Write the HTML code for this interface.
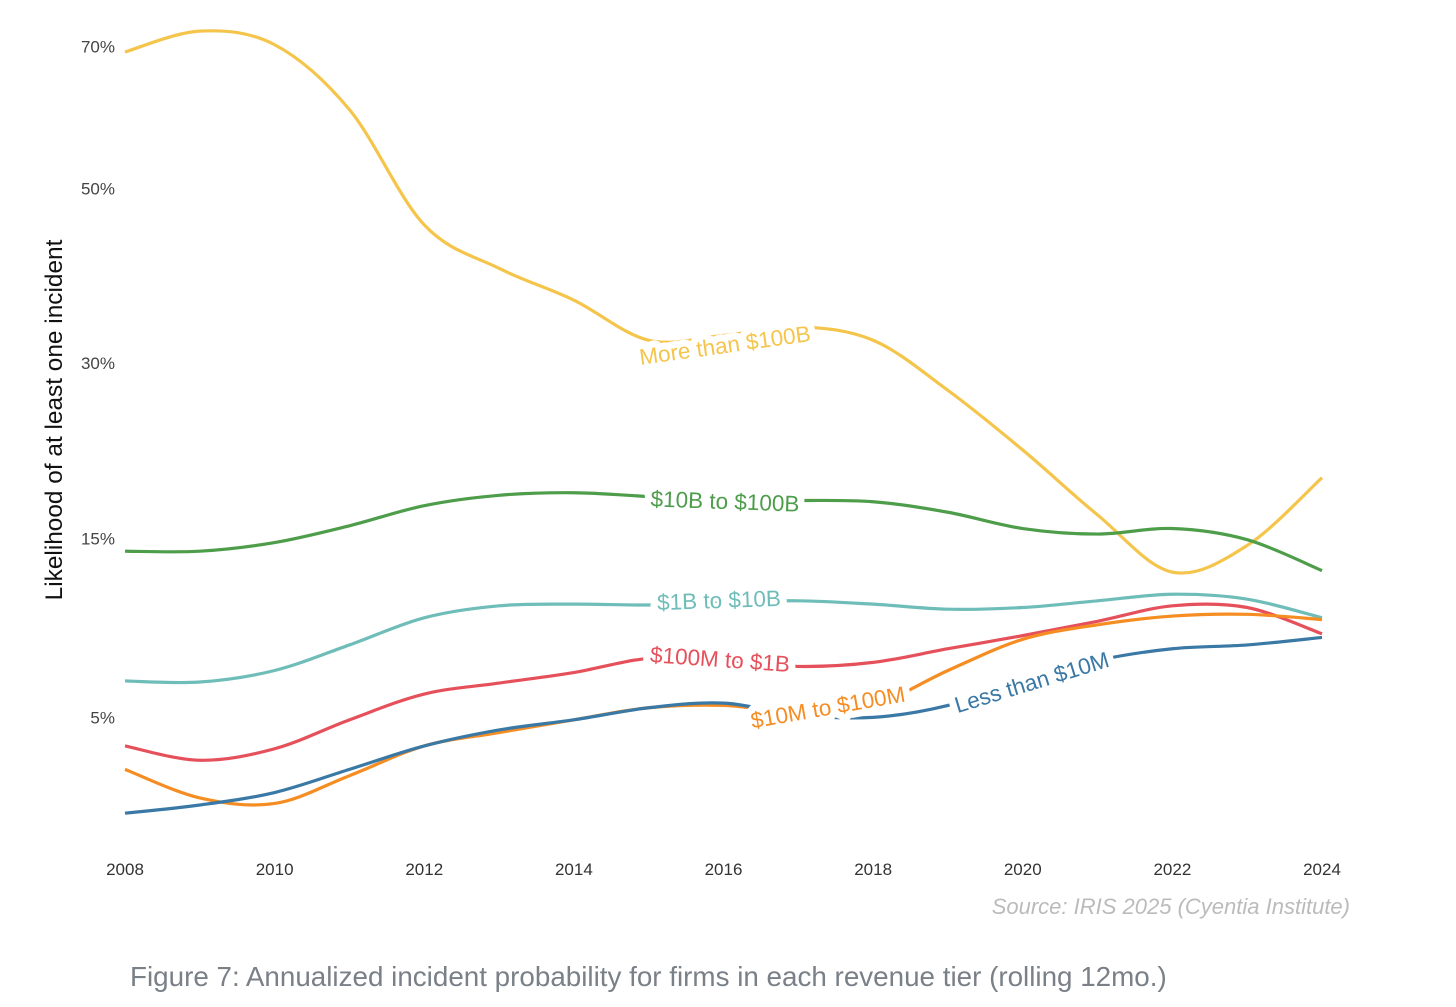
<!DOCTYPE html>
<html><head><meta charset="utf-8"><style>
body{margin:0;background:#fff;}
svg{display:block;font-family:"Liberation Sans",sans-serif;}
</style></head><body>
<svg id="chart" width="1456" height="1007">
<g id="grid"></g>
<g id="xaxis"></g>
<g id="lines"></g>
<g id="labels"></g>
<text x="62" y="420" transform="rotate(-90 62 420)" text-anchor="middle" font-size="24.4" fill="#111">Likelihood of at least one incident</text>
<text x="1350" y="914" text-anchor="end" font-size="22" font-style="italic" fill="#bbb">Source: IRIS 2025 (Cyentia Institute)</text>
<text x="130" y="986" font-size="27.8" fill="#7a8088">Figure 7: Annualized incident probability for firms in each revenue tier (rolling 12mo.)</text>
</svg>
<script>
const years=[2008,2009,2010,2011,2012,2013,2014,2015,2016,2017,2018,2019,2020,2021,2022,2023,2024];
const xTicks=[2008,2010,2012,2014,2016,2018,2020,2022,2024];
const yTicks=[5,15,30,50,70];
const yTickLabels=["5%","15%","30%","50%","70%"];
const seriesNames=["More than $100B","$10B to $100B","$1B to $10B","$100M to $1B","$10M to $100M","Less than $10M"];
const over100B=[69.2,72.4,70.3,60.7,45.4,40.2,36.6,32.3,32.8,33.7,32.3,27.3,21.9,16.7,12.7,14.5,19.6];
const b10to100B=[14.1,14.1,14.7,15.9,17.4,18.2,18.4,18.1,17.8,17.8,17.7,16.9,15.7,15.3,15.7,14.9,12.8];
const b1to10B=[6.6,6.55,7.1,8.4,9.9,10.6,10.7,10.65,10.8,10.9,10.7,10.4,10.5,10.9,11.3,11.0,9.9];
const m100to1B=[3.9,3.4,3.8,4.9,6.0,6.5,7.0,7.7,7.6,7.3,7.5,8.2,8.9,9.7,10.6,10.5,9.0];
const m10to100M=[3.1,2.25,2.1,2.9,3.9,4.4,4.9,5.4,5.5,5.2,5.5,7.1,8.7,9.5,10.0,10.1,9.8];
const under10M=[1.85,2.06,2.4,3.1,3.9,4.5,4.9,5.4,5.6,5.1,5.0,5.5,6.6,7.6,8.2,8.4,8.8];
const colors=["#f5c54b","#4e9d4a","#6fbdb8","#e5505b","#f58d22","#3a78a5"];

const NS="http://www.w3.org/2000/svg";
const x=y=>125+(y-2008)*(1322-125)/16;
const yS=v=>962-Math.sqrt(v)*109.4;
function mk(tag,attrs,parent){const e=document.createElementNS(NS,tag);for(const k in attrs)e.setAttribute(k,attrs[k]);parent.appendChild(e);return e;}
const grid=document.getElementById('grid');
yTicks.forEach((t,i)=>{
  const e=mk('text',{x:115,y:yS(t)+6,'text-anchor':'end','font-size':17,fill:'#444'},grid);
  
  
  e.textContent=yTickLabels[i];
});
const xa=document.getElementById('xaxis');
xTicks.forEach(t=>{
  const e=mk('text',{x:x(t),y:875,'text-anchor':'middle','font-size':17,fill:'#333'},xa);
  
  
  e.textContent=t;
});
function path(vals){
  const p=vals.map((v,i)=>[x(years[i]),yS(v)]);
  let d='M'+p[0][0]+','+p[0][1];
  for(let i=0;i<p.length-1;i++){
    const p0=p[Math.max(0,i-1)],p1=p[i],p2=p[i+1],p3=p[Math.min(p.length-1,i+2)];
    const c1=[p1[0]+(p2[0]-p0[0])/6,p1[1]+(p2[1]-p0[1])/6];
    const c2=[p2[0]-(p3[0]-p1[0])/6,p2[1]-(p3[1]-p1[1])/6];
    d+=`C${c1[0]},${c1[1]} ${c2[0]},${c2[1]} ${p2[0]},${p2[1]}`;
  }
  return d;
}
const all=[over100B,b10to100B,b1to10B,m100to1B,m10to100M,under10M];
const lg=document.getElementById('lines');
const slugs=['line-over-100b','line-10b-100b','line-1b-10b','line-100m-1b','line-10m-100m','line-under-10m'];
all.forEach((s,i)=>{
  const e=mk('path',{d:path(s),fill:'none',stroke:colors[i],'stroke-width':3.2},lg);
  
  
});
const lab=document.getElementById('labels');
const labelPos=[[725,353,-8,0],[725,509,2,1],[719,608,-2,2],[720,667,4,3],[828,715,-10,4],[1032,690,-17,5]];
labelPos.forEach(([lx,ly,r,i])=>{
  const e=mk('text',{x:lx,y:ly,'text-anchor':'middle','font-size':22.5,fill:colors[i],stroke:'#fff','stroke-width':14,'paint-order':'stroke','stroke-linejoin':'round',transform:`rotate(${r} ${lx} ${ly-7})`},lab);
  
  
  e.textContent=seriesNames[i];
});
</script>
</body></html>
